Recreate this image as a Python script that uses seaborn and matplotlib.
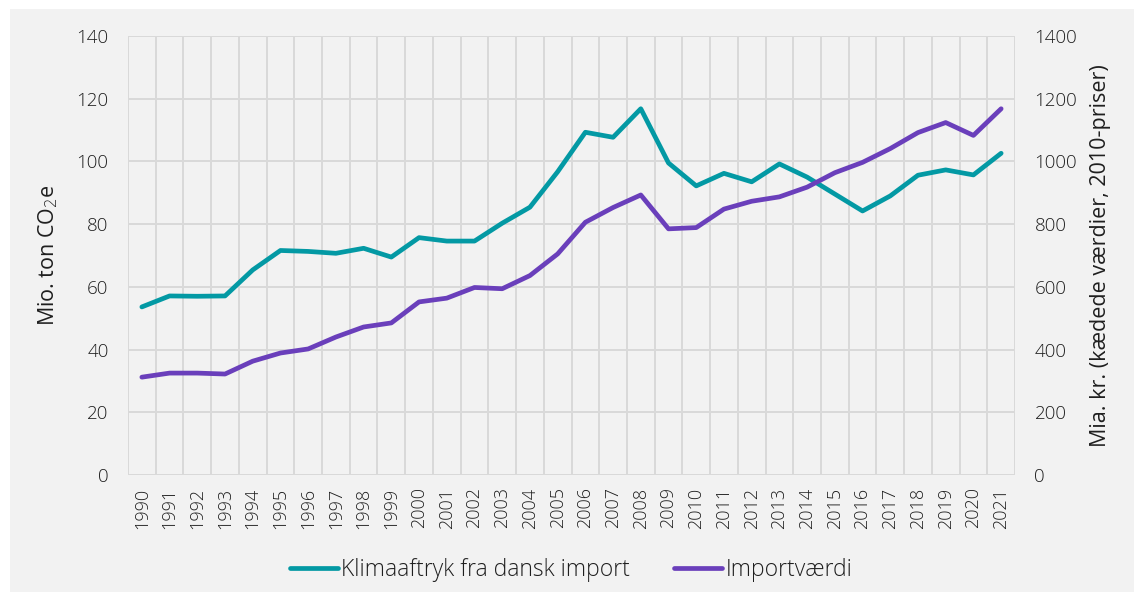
import numpy as np
import pandas as pd
import matplotlib
matplotlib.use("Agg")
import matplotlib.pyplot as plt
import seaborn as sns
from matplotlib.patches import Rectangle

# data
years = list(range(1990, 2022))
klima = [53.6, 57.1, 57.0, 57.1, 65.4, 71.6, 71.3, 70.7, 72.3, 69.5,
         75.7, 74.6, 74.6, 80.3, 85.4, 96.7, 109.3, 107.7, 116.8, 99.5,
         92.2, 96.2, 93.5, 99.2, 95.0, 89.6, 84.2, 89.0, 95.6, 97.3,
         95.7, 102.6]
importvaerdi = [312, 325, 325, 322, 363, 389, 402, 440, 472, 485,
                552, 564, 598, 594, 636, 705, 806, 853, 893, 785,
                789, 848, 873, 887, 918, 964, 997, 1041, 1092, 1124,
                1083, 1168]

label_klima = "Klimaaftryk fra dansk import"
label_import = "Importværdi"

df = pd.DataFrame({"year": years, "klima": klima, "import": importvaerdi})

sns.set_theme(style="white")
plt.rcParams['font.family'] = ['Open Sans', 'DejaVu Sans']
plt.rcParams['font.weight'] = 'light'
text_col = "#1f1f1f"
grid_col = "#d9d9d9"
teal = "#0399a4"
purple = "#6a3fbb"

fig = plt.figure(figsize=(11.42, 5.96), dpi=100, facecolor="white")
fig.patches.append(Rectangle((10 / 1142, 4 / 596), 1124 / 1142, 583 / 596,
                             transform=fig.transFigure, facecolor="#f2f2f2",
                             edgecolor="none", zorder=-10))

ax = fig.add_axes([128 / 1142, 121 / 596, 887 / 1142, 439 / 596])
ax.set_facecolor("none")
ax2 = ax.twinx()

sns.lineplot(data=df, x="year", y="klima", ax=ax, color=teal, linewidth=3.4,
             label=label_klima, legend=False)
sns.lineplot(data=df, x="year", y="import", ax=ax2, color=purple, linewidth=3.4,
             label=label_import, legend=False)

ax.set_xlim(1989.5, 2021.5)
ax.set_ylim(0, 140)
ax2.set_ylim(0, 1400)
ax.set_yticks(np.arange(0, 141, 20))
ax2.set_yticks(np.arange(0, 1401, 200))
ax.set_xticks(years)
ax.set_xticklabels([str(y) for y in years], rotation=90)
ax.set_xticks(np.arange(1989.5, 2022, 1), minor=True)

ax.grid(axis="y", which="major", color=grid_col, linewidth=1.4)
ax.grid(axis="x", which="minor", color=grid_col, linewidth=1.4)
ax.grid(axis="x", which="major", visible=False)
ax.set_axisbelow(True)

for a in (ax, ax2):
    for s in a.spines.values():
        s.set_visible(False)
    a.tick_params(length=0, which="both", colors=text_col, labelsize=13)
    a.set_xlabel("")
ax.tick_params(axis="y", labelsize=13.5, pad=14)
ax2.tick_params(axis="y", labelsize=13.5, pad=14)
ax.tick_params(axis="x", pad=9)

ax.set_ylabel("Mio. ton CO$_2$e", fontsize=15.5, color=text_col, labelpad=12)
ax2.set_ylabel("Mia. kr. (kædede værdier, 2010-priser)", fontsize=15.5,
               color=text_col, labelpad=9)

h1, l1 = ax.get_legend_handles_labels()
h2, l2 = ax2.get_legend_handles_labels()
fig.legend(h1 + h2, l1 + l2, loc="center", bbox_to_anchor=(0.5, 26 / 596),
           ncol=2, frameon=False, fontsize=16.5, handlelength=2.1,
           handletextpad=0.15, columnspacing=1.9, labelcolor=text_col)

fig.savefig("out.png", dpi=100, facecolor="white")
